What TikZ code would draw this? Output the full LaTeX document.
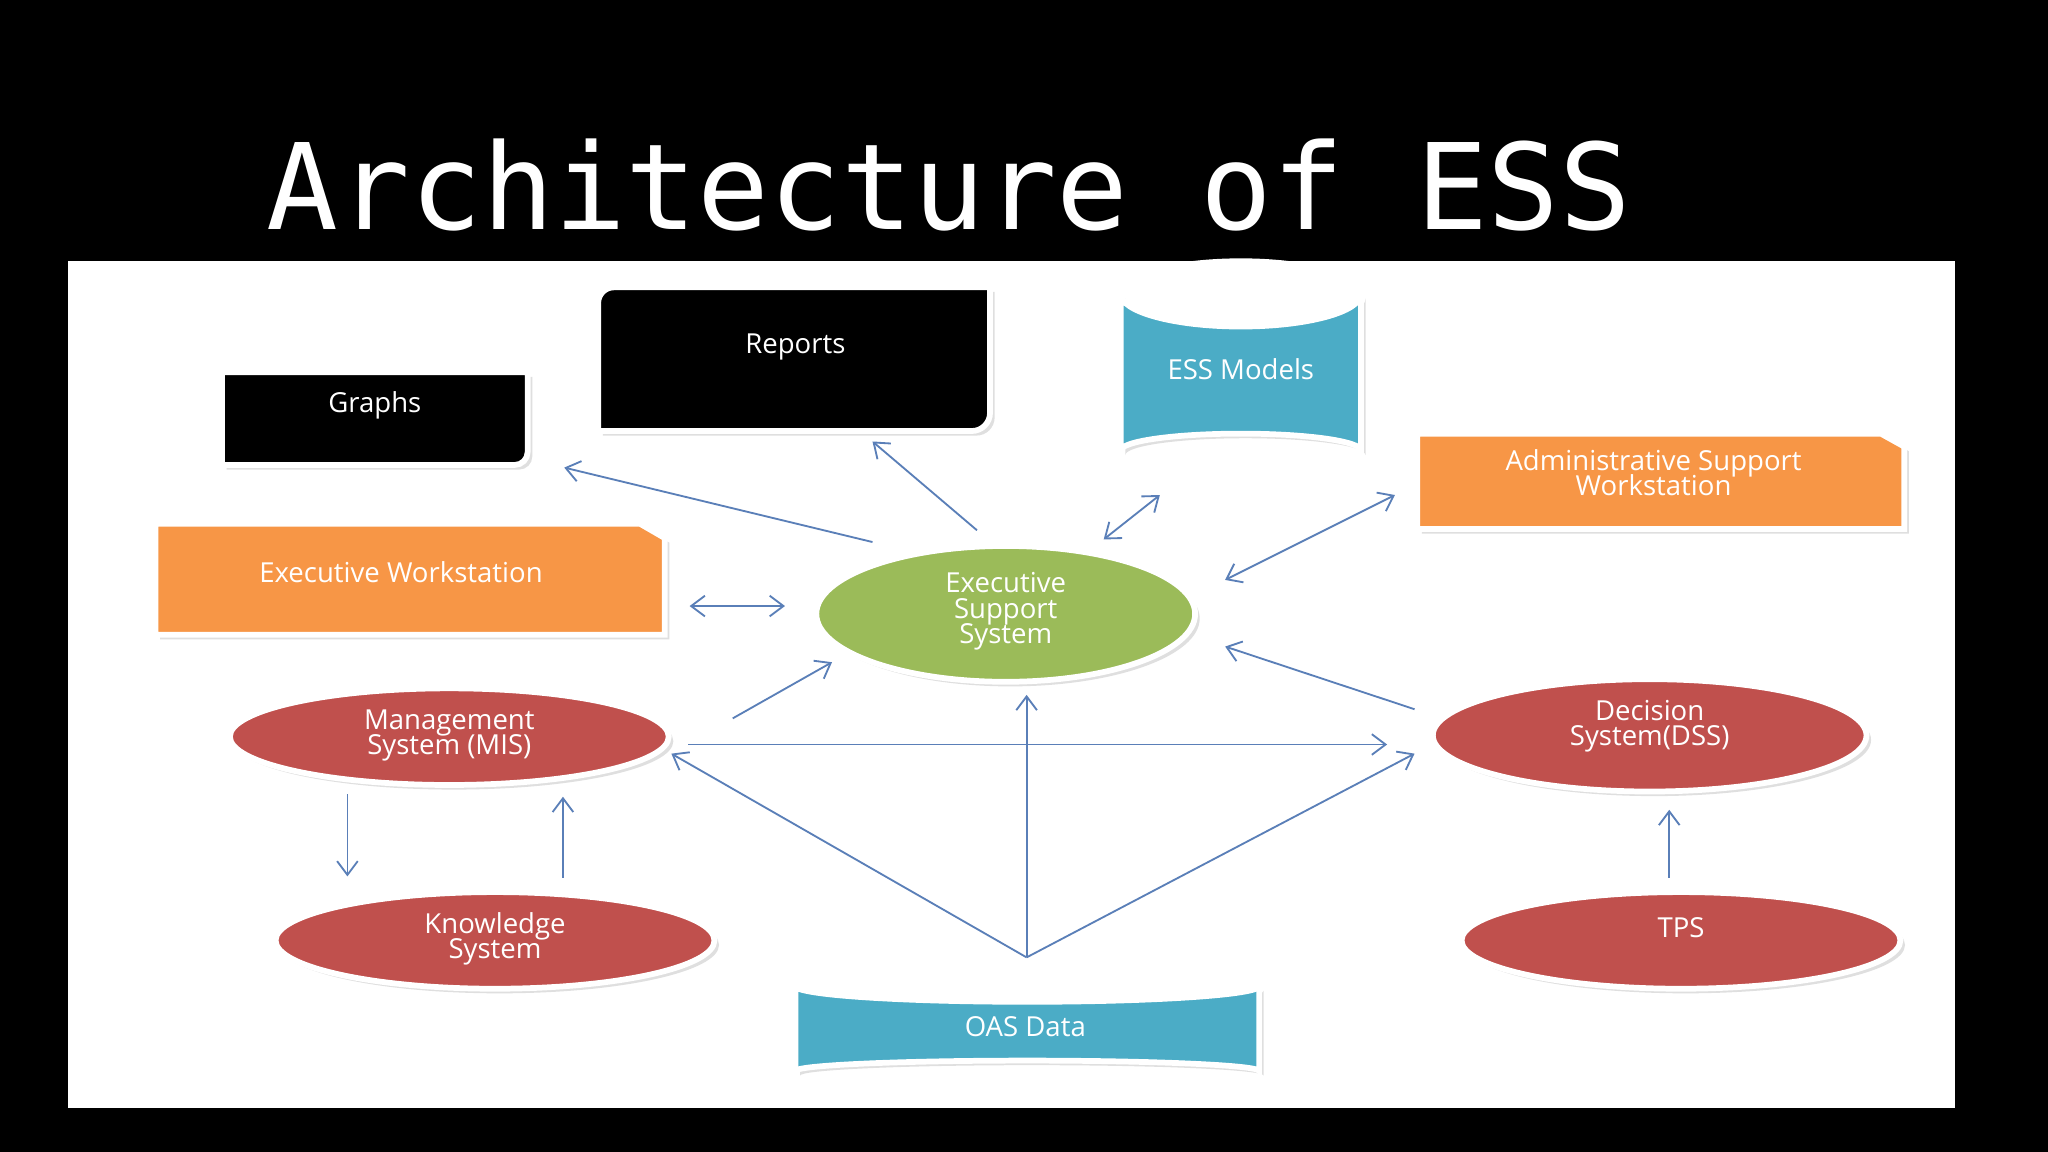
\documentclass[tikz,border=0pt]{standalone}
\usepackage{fontspec}
\setmainfont{Open Sans}
\newfontfamily\titlefont{DejaVu Sans Mono}
\usetikzlibrary{arrows.meta,shadows}
\definecolor{orng}{HTML}{F79646}
\definecolor{grn}{HTML}{9BBB59}
\definecolor{rd}{HTML}{C0504D}
\definecolor{bl}{HTML}{4BACC6}
\definecolor{arr}{HTML}{5A7FB8}
\tikzset{
 lbl/.style={text=white,font=\fontsize{12}{14}\selectfont,align=center},
 boxshade/.style={draw=white,line width=2.5pt,drop shadow={shadow xshift=2pt,shadow yshift=-2pt,opacity=0.25}},
 con/.style={draw=arr,line width=0.8pt,-{Straight Barb[length=6pt,width=9pt]}},
 bicon/.style={draw=arr,line width=0.8pt,{Straight Barb[length=6pt,width=9pt]}-{Straight Barb[length=6pt,width=9pt]}},
}
\begin{document}
\begin{tikzpicture}[x=0.02cm,y=-0.02cm]
\fill[black] (0,0) rectangle (1568,882);
\useasboundingbox (0,0) rectangle (1568,882);
\fill[white] (52,200) rectangle (1497,848);
\node[anchor=west,text=white,font=\titlefont\fontsize{52}{60}\selectfont] (title) at (198,142) {Architecture of ESS};
% Graphs
\path[fill=black,boxshade] (170,285) -- (404,285) -- (404,346) to[out=-90,in=0] (394,356) -- (170,356) -- cycle;
\node[lbl] (graphs) at (287,310) {Graphs};
% Reports
\path[fill=black,boxshade] (470,220) -- (758,220) -- (758,316) to[out=-90,in=0] (744,330) -- (458,330) -- (458,232) to[out=90,in=180] (470,220) -- cycle;
\node[lbl] (reports) at (609,266) {Reports};
% ESS Models cylinder
\path[fill=bl,boxshade] (858,225) -- (858,345) arc[start angle=180,end angle=360,x radius=92,y radius=13] -- (1042,225) arc[start angle=0,end angle=180,x radius=92,y radius=25];
\draw[white,line width=2.5pt] (858,225) arc[start angle=180,end angle=360,x radius=92,y radius=25];
\node[lbl] (essm) at (950,283) {ESS Models};
% Admin
\path[fill=orng,boxshade] (1085,332) -- (1440,332) -- (1458,342) -- (1458,405) -- (1085,405) -- cycle;
\node[lbl] (admin) at (1266,362) {Administrative Support\\[-3pt]Workstation};
% Exec workstation
\path[fill=orng,boxshade] (119,401) -- (490,401) -- (509,412) -- (509,486) -- (119,486) -- cycle;
\node[lbl] (ew) at (307,438) {Executive Workstation};
% ESS
\path[fill=grn,boxshade] (770,470) ellipse[x radius=145,y radius=52];
\node[lbl] (ess) at (770,468) {Executive\\[-3pt]Support\\[-3pt]System};
% MIS
\path[fill=rd,boxshade] (344,564) ellipse[x radius=168,y radius=37];
\node[lbl] (mis) at (344,563) {Management\\[-3pt]System (MIS)};
% DSS
\path[fill=rd,boxshade] (1263,563) ellipse[x radius=166,y radius=43];
\node[lbl] (dss) at (1263,556) {Decision\\[-3pt]System(DSS)};
% Knowledge
\path[fill=rd,boxshade] (379,720) ellipse[x radius=168,y radius=37];
\node[lbl] (ks) at (379,719) {Knowledge\\[-3pt]System};
% TPS
\path[fill=rd,boxshade] (1287,720) ellipse[x radius=168,y radius=37];
\node[lbl] (tps) at (1287,710) {TPS};
% OAS cylinder
\path[fill=bl,boxshade] (609,755) -- (609,820) arc[start angle=180,end angle=360,x radius=177.5,y radius=8] -- (964,755) arc[start angle=0,end angle=180,x radius=177.5,y radius=12];
\draw[white,line width=2.5pt] (609,755) arc[start angle=180,end angle=360,x radius=177.5,y radius=12];
\node[lbl] (oas) at (785,786) {OAS Data};
% connector endpoints
\coordinate (a1) at (668,415); \coordinate (a2) at (432,358);
\coordinate (b1) at (748,406); \coordinate (b2) at (668,338);
\coordinate (c1) at (845,413); \coordinate (c2) at (888,379);
\coordinate (d1) at (938,444); \coordinate (d2) at (1068,379);
\coordinate (e1) at (528,464); \coordinate (e2) at (601,464);
\coordinate (f1) at (561,550); \coordinate (f2) at (637,507);
\coordinate (g1) at (1083,543); \coordinate (g2) at (938,495);
\coordinate (h1) at (527,570); \coordinate (h2) at (1062,570);
\coordinate (i1) at (266,608); \coordinate (i2) at (266,671);
\coordinate (j1) at (431,672); \coordinate (j2) at (431,610);
\coordinate (k1) at (1278,672); \coordinate (k2) at (1278,620);
\coordinate (o) at (786,733); \coordinate (o1) at (786,532);
\coordinate (o2) at (514,577); \coordinate (o3) at (1083,577);
\draw[con] (a1) -- (a2);
\draw[con] (b1) -- (b2);
\draw[bicon] (c1) -- (c2);
\draw[bicon] (d1) -- (d2);
\draw[bicon] (e1) -- (e2);
\draw[con] (f1) -- (f2);
\draw[con] (g1) -- (g2);
\draw[con] (h1) -- (h2);
\draw[con] (i1) -- (i2);
\draw[con] (j1) -- (j2);
\draw[con] (k1) -- (k2);
\draw[con] (o) -- (o1);
\draw[con] (o) -- (o2);
\draw[con] (o) -- (o3);
\end{tikzpicture}
\end{document}
